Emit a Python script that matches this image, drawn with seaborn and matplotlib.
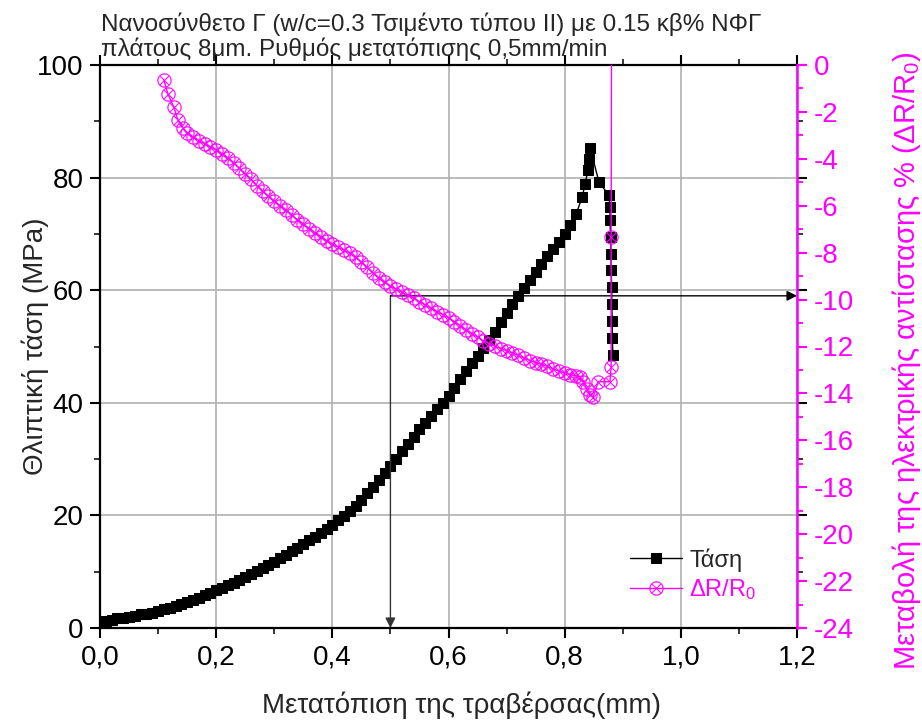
import matplotlib
matplotlib.use("Agg")
import matplotlib.pyplot as plt
import seaborn as sns
import pandas as pd
from matplotlib.ticker import MultipleLocator, FixedLocator

# ---------------- data ----------------
stress_x = [0.00, 0.01, 0.02, 0.03, 0.04, 0.05, 0.06, 0.07, 0.08, 0.09,
            0.10, 0.11, 0.12, 0.13, 0.14, 0.15, 0.16, 0.17, 0.18, 0.19,
            0.20, 0.21, 0.22, 0.23, 0.24, 0.25, 0.26, 0.27, 0.28, 0.29,
            0.30, 0.31, 0.32, 0.33, 0.34, 0.35, 0.36, 0.37, 0.38, 0.39,
            0.40, 0.41, 0.42, 0.43, 0.44, 0.45, 0.46, 0.47, 0.48, 0.49,
            0.50, 0.51, 0.52, 0.53, 0.54, 0.55, 0.56, 0.57, 0.58, 0.59,
            0.60, 0.61, 0.62, 0.63, 0.64, 0.65, 0.66, 0.67, 0.68, 0.69,
            0.70, 0.71, 0.72, 0.73, 0.74, 0.75, 0.76, 0.77, 0.78, 0.79,
            0.80, 0.81, 0.82, 0.83, 0.835, 0.840, 0.842, 0.844,
            0.859, 0.876, 0.878, 0.878, 0.879, 0.880, 0.880, 0.881, 0.881,
            0.882, 0.882, 0.883]
stress_y = [1.0, 1.3, 1.5, 1.7, 1.8, 2.0, 2.2, 2.4, 2.5, 2.7,
            3.0, 3.3, 3.6, 3.9, 4.2, 4.6, 5.0, 5.4, 5.8, 6.2,
            6.7, 7.1, 7.6, 8.0, 8.5, 9.0, 9.6, 10.1, 10.6, 11.2,
            11.8, 12.4, 13.0, 13.6, 14.2, 14.9, 15.6, 16.2, 16.9, 17.6,
            18.3, 19.1, 19.9, 20.8, 21.7, 22.7, 23.9, 25.1, 26.3, 27.5,
            28.8, 30.1, 31.4, 32.7, 34.0, 35.3, 36.5, 37.7, 38.9, 40.0,
            41.2, 42.7, 44.2, 45.7, 47.0, 48.3, 49.7, 51.1, 52.6, 54.3,
            56.0, 57.5, 59.0, 60.4, 61.8, 63.2, 64.6, 66.0, 67.3, 68.6,
            70.0, 71.6, 73.6, 76.5, 78.8, 81.3, 83.3, 85.3,
            79.2, 76.9, 74.8, 72.5, 69.5, 66.5, 63.5, 60.5, 57.5,
            54.5, 51.5, 48.5]

dr_x = [0.110, 0.117, 0.127, 0.134, 0.143, 0.150, 0.160, 0.170, 0.180, 0.190,
        0.200, 0.210, 0.220, 0.230, 0.240, 0.250, 0.260, 0.270, 0.280, 0.290,
        0.300, 0.310, 0.320, 0.330, 0.340, 0.350, 0.360, 0.370, 0.380, 0.390,
        0.400, 0.410, 0.420, 0.430, 0.440, 0.450, 0.460, 0.470, 0.480, 0.490,
        0.500, 0.510, 0.520, 0.530, 0.540, 0.550, 0.560, 0.570, 0.580, 0.590,
        0.600, 0.610, 0.620, 0.630, 0.640, 0.650, 0.660, 0.670, 0.680, 0.690,
        0.700, 0.710, 0.720, 0.730, 0.740, 0.750, 0.760, 0.770, 0.780, 0.790,
        0.800, 0.810, 0.820, 0.826, 0.832, 0.838, 0.844, 0.849, 0.858, 0.878,
        0.880, 0.880, 0.881]
dr_y = [-0.64, -1.24, -1.79, -2.34, -2.69, -2.92, -3.08, -3.22, -3.36, -3.49,
        -3.62, -3.79, -3.97, -4.17, -4.40, -4.63, -4.88, -5.14, -5.38, -5.60,
        -5.80, -6.00, -6.20, -6.40, -6.60, -6.79, -6.97, -7.15, -7.33, -7.49,
        -7.63, -7.76, -7.89, -8.02, -8.20, -8.41, -8.63, -8.86, -9.08, -9.26,
        -9.42, -9.56, -9.69, -9.82, -9.95, -10.09, -10.23, -10.37, -10.51, -10.64,
        -10.78, -10.94, -11.11, -11.28, -11.45, -11.60, -11.75, -11.88, -11.99, -12.09,
        -12.18, -12.28, -12.38, -12.49, -12.60, -12.69, -12.76, -12.85, -12.95, -13.05,
        -13.13, -13.20, -13.26, -13.30, -13.50, -13.80, -14.07, -14.15, -13.50, -13.50,
        -12.87, -7.33, 5.0]

x_ticks = [0.0, 0.2, 0.4, 0.6, 0.8, 1.0, 1.2]
x_tick_labels = ["0,0", "0,2", "0,4", "0,6", "0,8", "1,0", "1,2"]
y_ticks = [0, 20, 40, 60, 80, 100]
y_tick_labels = ["0", "20", "40", "60", "80", "100"]
r_ticks = [0, -2, -4, -6, -8, -10, -12, -14, -16, -18, -20, -22, -24]
r_tick_labels = ["0", "-2", "-4", "-6", "-8", "-10", "-12", "-14", "-16", "-18",
                 "-20", "-22", "-24"]
arrow_x = 0.5
arrow_y = 59.0

title_text = ("Νανοσύνθετο Γ (w/c=0.3 Τσιμέντο τύπου ΙΙ) με 0.15 κβ% ΝΦΓ\n"
              "πλάτους 8μm. Ρυθμός μετατόπισης 0,5mm/min")
x_label = "Μετατόπιση της τραβέρσας(mm)"
y_label = "Θλιπτική τάση (MPa)"
r_label = "Μεταβολή της ηλεκτρικής αντίστασης % (ΔR/R$_0$)"
legend_labels = ["Τάση", "ΔR/R$_0$"]

# ---------------- style ----------------
sns.set_theme(style="ticks")
plt.rcParams["font.family"] = ["Liberation Sans", "DejaVu Sans"]
plt.rcParams["mathtext.fontset"] = "custom"
plt.rcParams["mathtext.rm"] = "Liberation Sans"
plt.rcParams["mathtext.it"] = "Liberation Sans:italic"
plt.rcParams["axes.unicode_minus"] = False

MAG = "#FF00FF"
fig = plt.figure(figsize=(9.22, 7.25), dpi=100)
ax = fig.add_axes([100 / 922, 1 - 628 / 725, 697 / 922, 563 / 725])
ax2 = ax.twinx()

df_s = pd.DataFrame({"x": stress_x, "y": stress_y})
df_r = pd.DataFrame({"x": dr_x, "y": dr_y})

sns.lineplot(data=df_s, x="x", y="y", ax=ax, sort=False, estimator=None,
             color="black", marker="s", markersize=7.5, markeredgecolor="black",
             markerfacecolor="black", linewidth=1.0, legend=False)
sns.lineplot(data=df_r, x="x", y="y", ax=ax2, sort=False, estimator=None,
             color=MAG, marker=r"$\otimes$", markersize=10, markeredgewidth=0.3,
             markeredgecolor=MAG, markerfacecolor=MAG, linewidth=1.0, legend=False)

ax.set_xlim(0, 1.2)
ax.set_ylim(0, 100)
ax2.set_ylim(-24, 0)

ax.xaxis.set_major_locator(FixedLocator(x_ticks))
ax.set_xticklabels(x_tick_labels)
ax.xaxis.set_minor_locator(MultipleLocator(0.1))
ax.yaxis.set_major_locator(FixedLocator(y_ticks))
ax.set_yticklabels(y_tick_labels)
ax.yaxis.set_minor_locator(MultipleLocator(10))
ax2.yaxis.set_major_locator(FixedLocator(r_ticks))
ax2.set_yticklabels(r_tick_labels)
ax2.yaxis.set_minor_locator(MultipleLocator(1))

ax.grid(True, which="major", color="#b0b0b0", linewidth=1.2)
ax.set_axisbelow(True)

for sp in ["left", "bottom", "top"]:
    ax.spines[sp].set_linewidth(1.6)
    ax.spines[sp].set_color("black")
ax.spines["right"].set_visible(False)
for sp in ["left", "bottom", "top"]:
    ax2.spines[sp].set_visible(False)
ax2.spines["right"].set_color(MAG)
ax2.spines["right"].set_linewidth(1.8)

ax.tick_params(which="major", direction="out", length=7, width=1.5,
               top=True, right=True, labelsize=20, colors="black", pad=5)
ax.tick_params(which="minor", direction="out", length=4, width=1.3,
               top=True, right=True)
ax2.tick_params(which="major", direction="out", length=7, width=1.5,
                colors=MAG, labelsize=20, pad=5)
ax2.tick_params(which="minor", direction="out", length=4, width=1.3, colors=MAG)

ax.set_xlabel(x_label, fontsize=20, va="center")
ax.xaxis.set_label_coords(0.518, -0.137)
ax.set_ylabel(y_label, fontsize=20, va="center")
ax.yaxis.set_label_coords(-0.093, 0.5)
ax2.set_ylabel(r_label, fontsize=21, color=MAG, va="center", rotation=90)
ax2.yaxis.set_label_coords(1.157, 0.475)

# arrows
ax.annotate("", xy=(arrow_x, 0), xytext=(arrow_x, arrow_y),
            arrowprops=dict(arrowstyle="-|>", color="#333333", lw=1.0,
                            mutation_scale=15, shrinkA=0, shrinkB=0))
ax.annotate("", xy=(1.2, arrow_y), xytext=(arrow_x, arrow_y),
            arrowprops=dict(arrowstyle="-|>", color="black", lw=1.0,
                            mutation_scale=15, shrinkA=0, shrinkB=0))

fig.text(101 / 922, 1 - 12 / 725, title_text, ha="left", va="top",
         fontsize=17.5, linespacing=1.12)

handles = [ax.get_lines()[0], ax2.get_lines()[0]]
leg = ax.legend(handles, legend_labels, loc="upper left",
                bbox_to_anchor=(630 / 922, 1 - 548 / 725),
                bbox_transform=fig.transFigure, frameon=False, fontsize=17,
                borderpad=0, borderaxespad=0, handlelength=2.2,
                handletextpad=0.3, labelspacing=0.25)
leg.get_texts()[1].set_color(MAG)

fig.savefig("out.png", dpi=100)
